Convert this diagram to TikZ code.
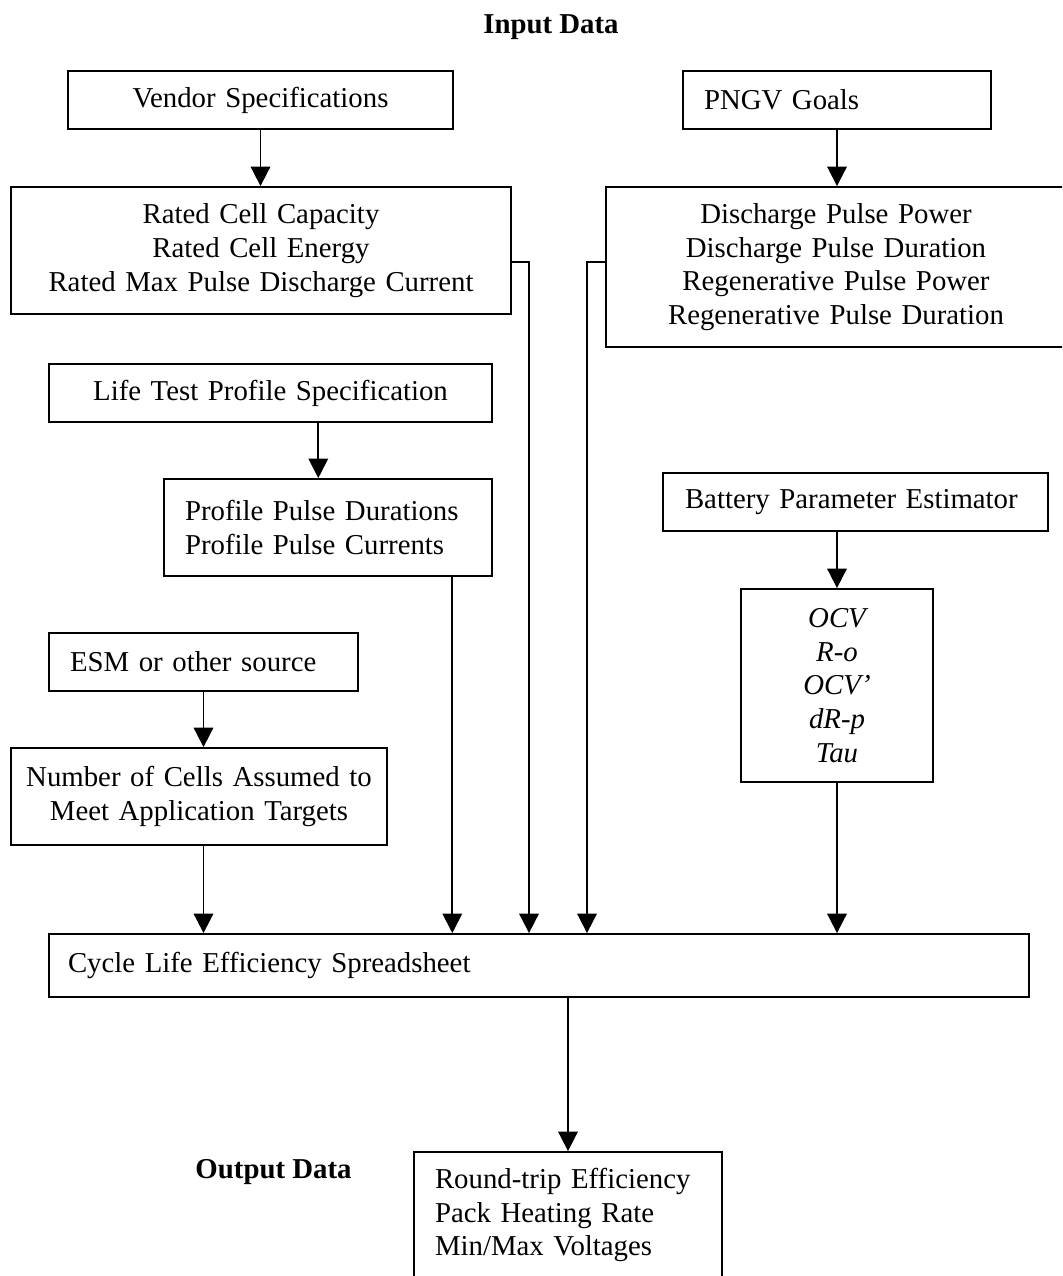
\documentclass[tikz,border=0pt]{standalone}
\usepackage{fontspec}
\setmainfont{Liberation Serif}
\usetikzlibrary{arrows.meta}
\newcommand\diagfont{\fontsize{28.8}{33.7}\selectfont}
\begin{document}
\begin{tikzpicture}[x=1pt,y=-1pt,
  box/.style={draw, line width=1.8pt, inner ysep=0pt, font=\diagfont},
  cbox/.style 2 args={box, text width=#1pt, minimum height=#2pt, inner xsep=0pt, align=center},
  lbox/.style n args={3}{box, text width=#1pt, minimum height=#2pt, inner xsep=#3pt, align=left},
  heading/.style={font=\diagfont\bfseries, anchor=base, inner sep=0pt},
  arr/.style={line width=1.8pt, -{Triangle[length=19.5pt,width=19.5pt]}}]
\useasboundingbox (0,0) rectangle (1062,1276);
\clip (0,0) rectangle (1062,1276);

% headings
\node[heading] (indata) at (551,34) {Input Data};
\node[heading] (outdata) at (273.5,1178) {Output Data};

% input boxes
\node[cbox={385}{58}] (vendor) at (260.5,100) {Vendor Specifications};
\node[cbox={500}{127}] (rated) at (261,250.5) {Rated Cell Capacity\\Rated Cell Energy\\Rated Max Pulse Discharge Current};
\node[lbox={266}{58}{21}] (pngv) at (837,100) {PNGV Goals};
\node[cbox={460}{160}] (disch) at (836,267) {Discharge Pulse Power\\Discharge Pulse Duration\\Regenerative Pulse Power\\Regenerative Pulse Duration};
\node[cbox={443}{58}] (life) at (270.5,393) {Life Test Profile Specification};
\node[lbox={286}{97}{21}] (profile) at (328,527.5) {Profile Pulse Durations\\Profile Pulse Currents};
\node[lbox={341}{58}{22}] (battery) at (855.5,502) {Battery Parameter Estimator};
\node[cbox={192}{193}, font=\diagfont\itshape] (ocv) at (837,685.5) {OCV\\R-o\\OCV’\\dR-p\\Tau};
\node[lbox={267}{58}{21}] (esm) at (203.5,662) {ESM or other source};
\node[cbox={376}{97}] (ncells) at (199,796.5) {Number of Cells Assumed to\\Meet Application Targets};

% spreadsheet and results
\node[lbox={942}{63}{19}] (sheet) at (539,965.5) {Cycle Life Efficiency Spreadsheet};
\node[lbox={266}{126}{21}] (outbox) at (568,1215) {Round-trip Efficiency\\Pack Heating Rate\\Min/Max Voltages};

% routing points
\coordinate (j1) at (529,262);
\coordinate (j2) at (587,262);
\coordinate (j3) at (318.3,0);
\coordinate (j4) at (452.3,0);

% connectors
\draw[arr] (vendor.south) -- (vendor.south |- rated.north);
\draw[arr] (pngv.south) -- (pngv.south |- disch.north);
\draw[arr] (rated.east |- j1) -- (j1) -- (j1 |- sheet.north);
\draw[arr] (disch.west |- j2) -- (j2) -- (j2 |- sheet.north);
\draw[arr] (j3 |- life.south) -- (j3 |- profile.north);
\draw[arr] (j4 |- profile.south) -- (j4 |- sheet.north);
\draw[arr] (ocv.north |- battery.south) -- (ocv.north);
\draw[arr] (ocv.south) -- (ocv.south |- sheet.north);
\draw[arr] (esm.south) -- (esm.south |- ncells.north);
\draw[arr] (esm.south |- ncells.south) -- (esm.south |- sheet.north);
\draw[arr] (outbox.north |- sheet.south) -- (outbox.north);
\end{tikzpicture}
\end{document}
